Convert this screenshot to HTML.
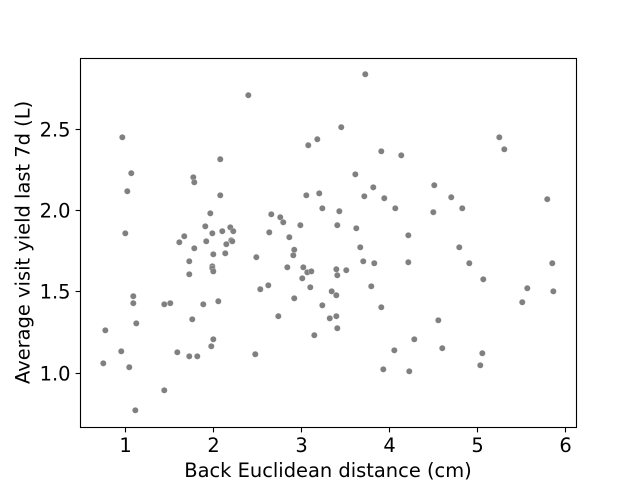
<!DOCTYPE html>
<html>
<head>
<meta charset="utf-8">
<title>Scatter chart</title>
<style>
html,body{margin:0;padding:0;background:#fff;}
svg{display:block;}
text{font-family:"DejaVu Sans","Liberation Sans",sans-serif;fill:#000;}
</style>
</head>
<body>
<svg id="chart" width="640" height="480" viewBox="0 0 640 480" xmlns="http://www.w3.org/2000/svg">
<rect x="0" y="0" width="640" height="480" fill="#fff"/>
<g id="points"></g>
<g id="xticks"></g>
<g id="yticks"></g>
<rect x="80.5" y="58.5" width="496" height="369" fill="none" stroke="#000" stroke-width="1.11"/>
<text x="328" y="477" font-size="19.44" text-anchor="middle">Back Euclidean distance (cm)</text>
<text transform="translate(29.5 242.4) rotate(-90)" font-size="19.44" text-anchor="middle">Average visit yield last 7d (L)</text>
</svg>
<script>
const xValues = [2.397,0.965,1.067,1.022,0.999,1.772,1.783,2.078,2.078,1.965,1.908,1.988,2.101,2.192,2.226,1.669,1.613,1.919,2.147,2.203,2.215,1.783,3.078,3.181,3.056,3.203,3.238,2.658,2.76,2.794,2.988,2.635,2.863,2.919,3.726,3.453,3.908,4.135,3.613,3.817,3.715,3.942,4.067,3.431,3.408,3.624,4.215,3.669,4.51,4.703,4.828,4.499,4.794,5.249,5.306,5.794,1.999,2.135,1.726,1.726,1.988,1.988,1.999,2.488,2.908,2.84,3.022,3.067,3.113,3.01,3.101,2.533,2.624,2.919,3.238,2.738,3.344,3.322,3.147,1.09,1.09,1.442,1.51,1.885,2.056,1.124,1.76,0.772,0.953,0.749,1.044,1.59,1.726,1.817,1.999,1.976,2.476,1.442,1.113,3.703,3.828,4.215,4.908,5.851,5.067,3.397,3.408,3.51,3.794,5.567,5.863,5.51,3.397,3.908,3.397,3.408,4.556,4.283,4.056,4.601,5.056,5.033,3.931,4.226];
const yValues = [2.71,2.451,2.23,2.119,1.86,2.205,2.174,2.316,2.094,1.983,1.903,1.86,1.873,1.897,1.873,1.842,1.805,1.811,1.793,1.817,1.811,1.768,2.402,2.439,2.094,2.106,2.014,1.977,1.959,1.928,1.91,1.866,1.836,1.759,2.839,2.513,2.365,2.34,2.223,2.143,2.088,2.076,2.014,1.996,1.91,1.891,1.848,1.774,2.156,2.082,2.014,1.99,1.774,2.451,2.377,2.07,1.731,1.737,1.688,1.608,1.657,1.645,1.626,1.713,1.725,1.651,1.651,1.62,1.626,1.583,1.528,1.516,1.54,1.46,1.417,1.35,1.503,1.337,1.233,1.473,1.43,1.423,1.43,1.423,1.442,1.306,1.331,1.263,1.134,1.06,1.036,1.128,1.103,1.103,1.208,1.165,1.116,0.894,0.771,1.688,1.676,1.682,1.676,1.676,1.577,1.639,1.602,1.633,1.534,1.522,1.503,1.436,1.479,1.405,1.35,1.276,1.325,1.208,1.14,1.153,1.122,1.048,1.023,1.011];
const xTickValues = [1,2,3,4,5,6];
const xTickLabels = ["1","2","3","4","5","6"];
const yTickValues = [1.0,1.5,2.0,2.5];
const yTickLabels = ["1.0","1.5","2.0","2.5"];

const NS = 'http://www.w3.org/2000/svg';
function xScale(v){ return 125.4 + (v - 1) * 88; }
function yScale(v){ return 373.1 - (v - 1) * 162.5; }

const pointsGroup = document.getElementById('points');
xValues.forEach(function(xv, i){
  const c = document.createElementNS(NS, 'circle');
  
  
  c.setAttribute('cx', xScale(xv));
  c.setAttribute('cy', yScale(yValues[i]));
  c.setAttribute('r', '3.1');
  c.setAttribute('fill', '#808080');
  c.setAttribute('stroke', '#fff');
  c.setAttribute('stroke-width', '0.25');
  pointsGroup.appendChild(c);
});

const xTickGroup = document.getElementById('xticks');
xTickValues.forEach(function(v, i){
  const px = Math.floor(xScale(v)) + 0.5;
  const t = document.createElementNS(NS, 'line');
  
  
  t.setAttribute('x1', px);
  t.setAttribute('x2', px);
  t.setAttribute('y1', 427.5);
  t.setAttribute('y2', 432.4);
  t.setAttribute('stroke', '#000');
  t.setAttribute('stroke-width', '1.11');
  xTickGroup.appendChild(t);
  const l = document.createElementNS(NS, 'text');
  
  
  l.setAttribute('x', px);
  l.setAttribute('y', 452);
  l.setAttribute('font-size', '19.44');
  l.setAttribute('text-anchor', 'middle');
  l.textContent = xTickLabels[i];
  xTickGroup.appendChild(l);
});

const yTickGroup = document.getElementById('yticks');
yTickValues.forEach(function(v, i){
  const py = Math.floor(yScale(v)) + 0.5;
  const t = document.createElementNS(NS, 'line');
  
  
  t.setAttribute('x1', 75.6);
  t.setAttribute('x2', 80.5);
  t.setAttribute('y1', py);
  t.setAttribute('y2', py);
  t.setAttribute('stroke', '#000');
  t.setAttribute('stroke-width', '1.11');
  yTickGroup.appendChild(t);
  const l = document.createElementNS(NS, 'text');
  
  
  l.setAttribute('x', 70.5);
  l.setAttribute('y', py + 6.8);
  l.setAttribute('font-size', '19.44');
  l.setAttribute('text-anchor', 'end');
  l.textContent = yTickLabels[i];
  yTickGroup.appendChild(l);
});
</script>
</body>
</html>
